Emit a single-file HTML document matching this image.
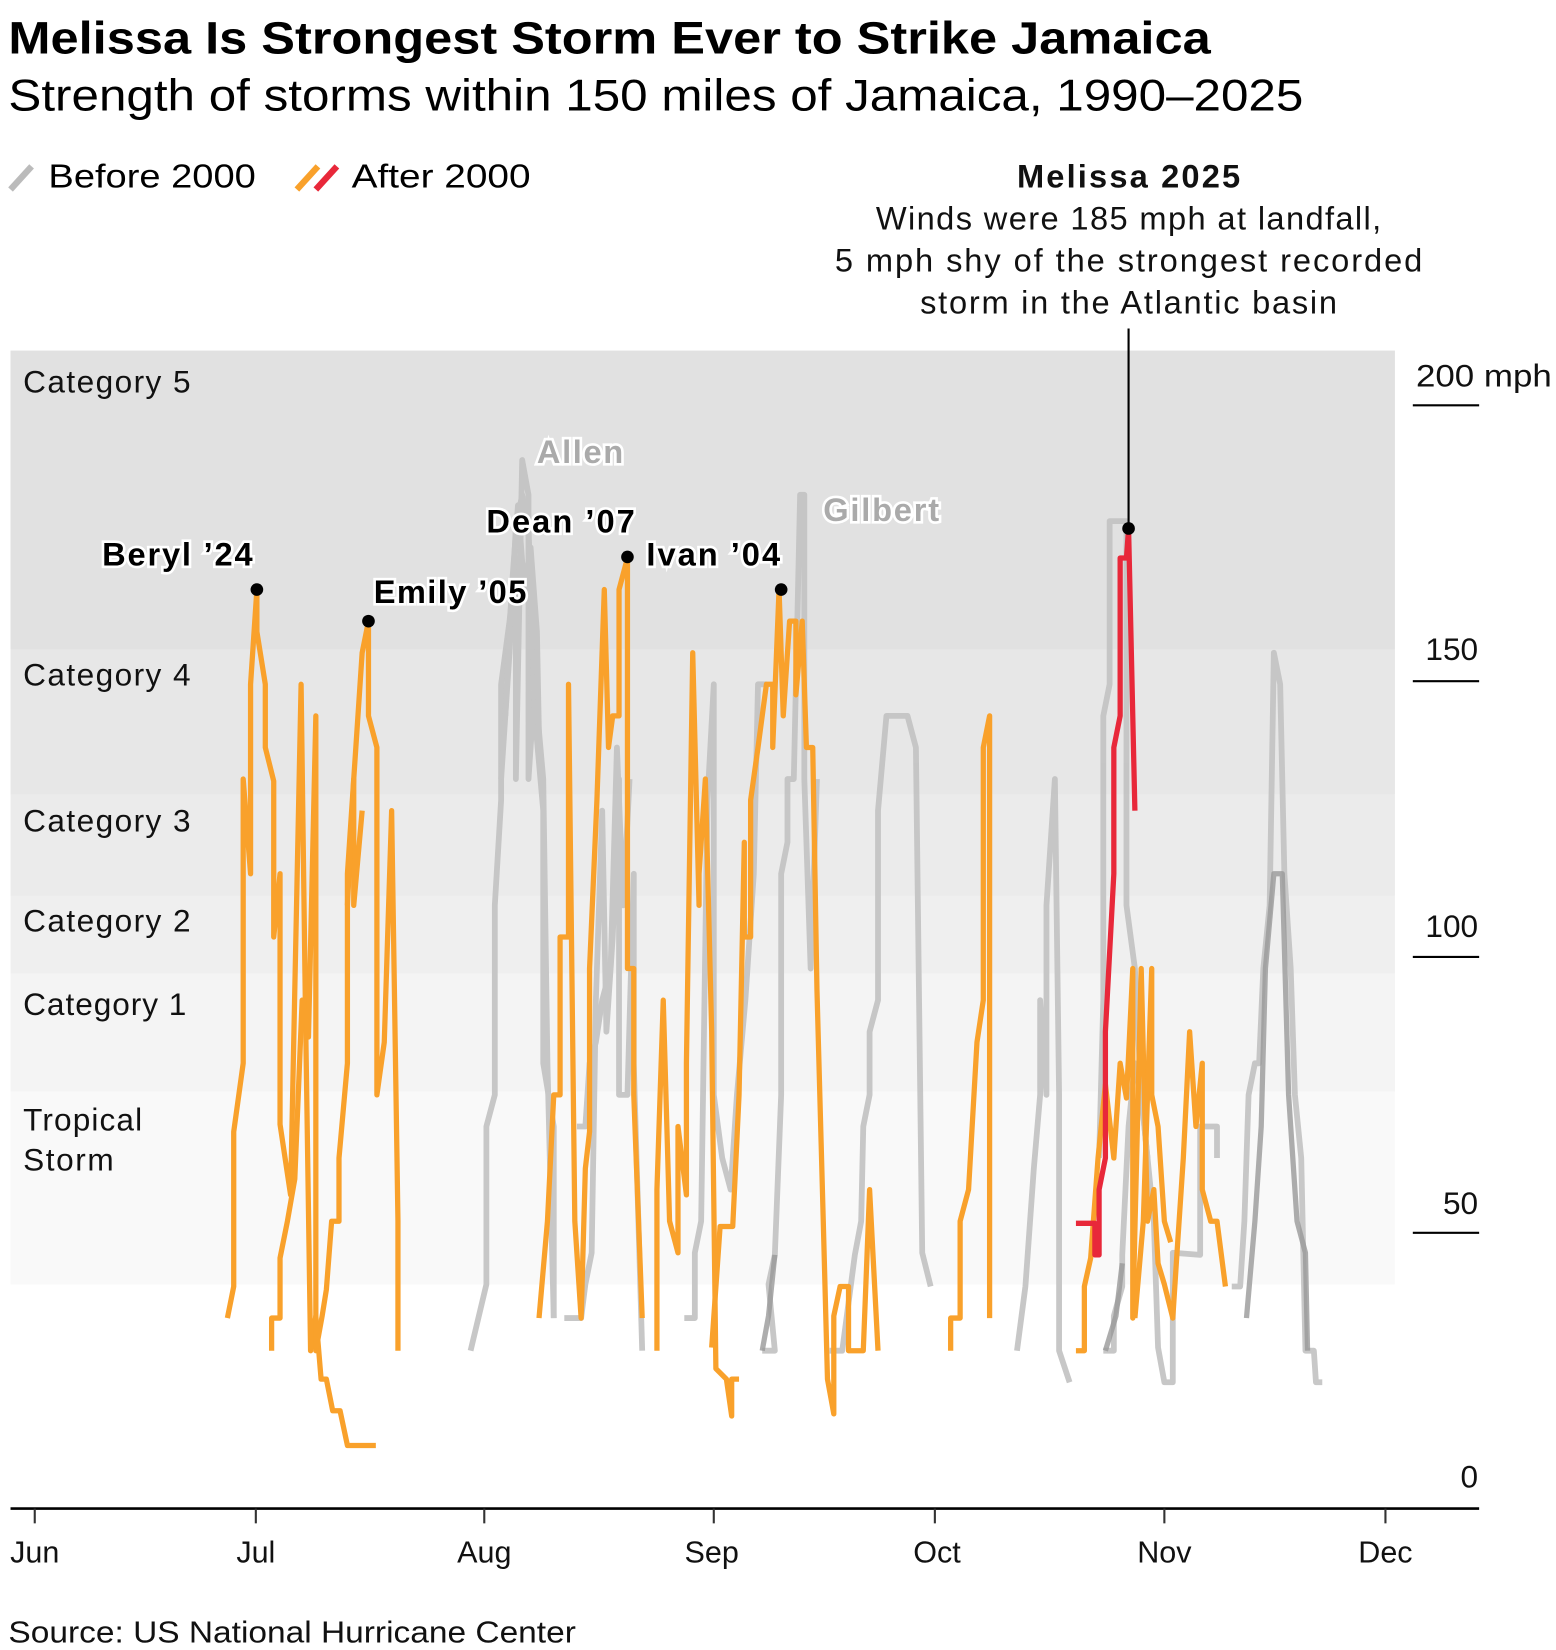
<!DOCTYPE html>
<html><head><meta charset="utf-8"><style>html,body{margin:0;padding:0;background:#fff}svg{display:block}</style></head>
<body>
<svg width="1556" height="1650" viewBox="0 0 1478 1567.3" xmlns="http://www.w3.org/2000/svg" font-family="Liberation Sans, sans-serif">
<rect width="1478" height="1568" fill="#fff"/>
<text x="8" y="51" font-size="43" font-weight="bold" fill="#000" textLength="1142" lengthAdjust="spacingAndGlyphs">Melissa Is Strongest Storm Ever to Strike Jamaica</text>
<text x="8" y="105" font-size="42" fill="#000" textLength="1230" lengthAdjust="spacingAndGlyphs">Strength of storms within 150 miles of Jamaica, 1990–2025</text>
<line x1="10" y1="180" x2="30" y2="158" stroke="#bbb" stroke-width="6"/>
<text x="46" y="178" font-size="32" textLength="197" lengthAdjust="spacingAndGlyphs">Before 2000</text>
<line x1="282" y1="180" x2="302" y2="158" stroke="#f9a12b" stroke-width="6"/>
<line x1="300" y1="180" x2="320" y2="158" stroke="#e8283a" stroke-width="6"/>
<text x="334" y="178" font-size="32" textLength="170" lengthAdjust="spacingAndGlyphs">After 2000</text>
<rect x="10" y="333" width="1315" height="284" fill="#e1e1e1"/>
<rect x="10" y="617" width="1315" height="138" fill="#e7e7e7"/>
<rect x="10" y="755" width="1315" height="96" fill="#ebebeb"/>
<rect x="10" y="851" width="1315" height="74" fill="#efefef"/>
<rect x="10" y="925" width="1315" height="112" fill="#f4f4f4"/>
<rect x="10" y="1037" width="1315" height="183" fill="#f9f9f9"/>
<g font-size="30" fill="#111" lengthAdjust="spacingAndGlyphs">
<text x="22" y="373" textLength="159">Category 5</text><text x="22" y="651" textLength="159">Category 4</text><text x="22" y="790" textLength="159">Category 3</text><text x="22" y="885" textLength="159">Category 2</text><text x="22" y="964" textLength="155">Category 1</text><text x="22" y="1074" textLength="113">Tropical</text><text x="22" y="1112" textLength="86">Storm</text>
</g>
<g stroke="#000" stroke-width="2"><line x1="1342" y1="385" x2="1405" y2="385"/><line x1="1342" y1="647" x2="1405" y2="647"/><line x1="1342" y1="909" x2="1405" y2="909"/><line x1="1342" y1="1171" x2="1405" y2="1171"/></g>
<g font-size="30" fill="#111"><text x="1345" y="367" textLength="129" lengthAdjust="spacingAndGlyphs">200 mph</text><text x="1404" y="627" text-anchor="end">150</text><text x="1404" y="890" text-anchor="end">100</text><text x="1404" y="1153" text-anchor="end">50</text><text x="1404" y="1413" text-anchor="end">0</text></g>
<g fill="none" stroke="#c2c2c2" stroke-width="5.5" stroke-linejoin="round" opacity="0.9">
<polyline points="447,1283 462,1220 462,1070 470,1040 470,860 476,760 476,650 484,590 490,530 490,740 496,437 502,470 502,740 508,650 516,740 520,1010 526,1252"/>
<polyline points="476,740 484,620 490,500 496,470 502,500 508,680 516,770 516,1010 526,1070 526,1252"/>
<polyline points="480,680 486,560 492,480 498,560 504,520 510,600 512,700"/>
<polyline points="536,1252 552,1252 556,1220 562,1190 566,950 572,770 576,980 582,890 588,740 588,1040 596,1040 602,830 602,1010 610,1283"/>
<polyline points="548,1070 556,1070 560,1010 566,990 572,950 580,920 586,710 592,860 598,740"/>
<polyline points="650,1252 660,1252 660,1190 666,1160 672,760 678,650 678,1040 686,1100 694,1130 700,1040 708,950 712,890 716,830 720,650 728,650"/>
<polyline points="724,1283 736,1283 730,1220 736,1192 742,1040 742,830 748,800 748,740 754,740 760,470 764,470 764,740 770,920 776,740"/>
<polyline points="788,1283 800,1283 812,1192 818,1160 820,1070 826,1040 826,980 834,950 834,770 842,680 862,680 870,710 876,1190 884,1222"/>
<polyline points="966,1283 974,1222 982,1110 988,1040 988,950 994,1040 994,860 1002,740 1006,1040 1006,1283 1016,1313"/>
<polyline points="1048,1283 1058,1283 1058,1250 1066,1222 1066,1192 1072,1070 1078,1010 1084,1040 1090,1100 1096,1160 1100,1280 1106,1313 1114,1313 1114,1190 1140,1192 1140,1070 1156,1070 1156,1100"/>
<polyline points="1044,1100 1048,950 1048,680 1054,650 1054,495 1070,495 1070,860 1078,920 1084,1040 1090,1100"/>
<polyline points="1170,1222 1178,1222 1182,1160 1186,1040 1192,1010 1196,1010 1200,920 1206,860 1210,620 1216,650 1220,830 1226,920 1230,1040 1236,1100 1240,1283 1248,1283 1250,1313 1256,1313"/>
</g>
<g fill="none" stroke="#999" stroke-width="5" stroke-linejoin="round" opacity="0.8">
<polyline points="1184,1252 1192,1160 1198,1070 1202,920 1210,830 1218,830 1224,1040 1232,1160 1240,1190 1242,1283"/>
<polyline points="724,1283 730,1250 736,1192"/>
<polyline points="1050,1283 1060,1250 1066,1200"/>
</g>
<g fill="none" stroke="#f9a12b" stroke-width="5" stroke-linejoin="round">
<polyline points="216,1252 222,1222 222,1075 231,1010 231,740 238,830 238,650 244,560 244,600 252,650 252,710 260,742 260,890 266,830 266,1068 276,1135 286,650 290,950 295,1283 300,1250 305,1310 310,1310 316,1340 323,1340 330,1373 357,1373"/>
<polyline points="258,1283 258,1252 266,1252 266,1195 273,1160 280,1120 287,950 293,985 300,680 300,1283 306,1250 310,1225 315,1160 322,1160 322,1100 330,1010 330,830 336,740 336,860 344,770"/>
<polyline points="330,860 336,740 344,620 350,590 350,680 358,710 358,1040 365,990 372,770 378,1160 378,1283"/>
<polyline points="512,1252 520,1160 526,1040 532,1040 532,890 540,890 540,650 546,1160 552,1252 556,1110 560,1075 560,920 567,760 574,560 578,710 582,680 588,680 588,560 596,530 596,920 602,920 602,1040 610,1252"/>
<polyline points="624,1283 624,1130 630,950 636,1160 644,1190 644,1070 652,1135 652,1010 658,620 664,860 664,830 670,740 676,980 680,1300 690,1310 695,1345 695,1310 702,1310"/>
<polyline points="676,1280 684,1165 696,1165 702,1040 707,800 707,890 713,890 713,760 720,710 728,650 734,650 734,710 740,560 744,680 750,590 756,590 756,660 762,590 766,710 772,710 776,940 782,1160 786,1310 792,1343 792,1250 798,1222 806,1222 806,1283 820,1283 826,1130 834,1283"/>
<polyline points="903,1283 903,1252 912,1252 912,1160 920,1130 928,990 934,950 934,710 940,680 940,1252"/>
<polyline points="1022,1283 1030,1283 1030,1222 1036,1195 1043,1100 1050,1030 1058,1100 1064,1010 1070,1043 1076,920 1076,1252 1084,920 1090,1160 1096,1130 1100,1200 1106,1220 1114,1252 1118,1190 1124,1100 1130,980 1136,1070 1142,1010 1142,1130 1150,1160 1156,1160 1164,1222"/>
<polyline points="1078,1252 1086,1160 1094,920 1094,1040 1100,1070 1106,1160 1112,1180"/>
</g>
<polyline fill="none" stroke="#e8283a" stroke-width="5" stroke-linejoin="round" points="1022,1162 1040,1162 1040,1192 1044,1192 1044,1130 1050,1100 1050,980 1058,830 1058,710 1064,680 1064,530 1070,530 1072,502 1078,770"/>
<line x1="1072" y1="312" x2="1072" y2="502" stroke="#000" stroke-width="2"/>
<g fill="#000"><circle cx="244" cy="560" r="6"/><circle cx="350" cy="590" r="6"/><circle cx="596" cy="529" r="6"/><circle cx="742" cy="560" r="6"/><circle cx="1072" cy="502" r="6"/></g>
<g font-size="31" font-weight="bold" stroke="#fff" stroke-width="5" paint-order="stroke" lengthAdjust="spacingAndGlyphs">
<text x="97" y="537" textLength="143">Beryl ’24</text><text x="355" y="573" textLength="145">Emily ’05</text><text x="462" y="506" textLength="141">Dean ’07</text><text x="614" y="537" textLength="127">Ivan ’04</text>
<text x="510" y="440" fill="#aaa" textLength="82">Allen</text><text x="782" y="495" fill="#aaa" textLength="110">Gilbert</text>
</g>
<g font-size="31" text-anchor="middle" fill="#111" lengthAdjust="spacingAndGlyphs">
<text x="1072" y="178" font-weight="bold" textLength="212">Melissa 2025</text>
<text x="1072" y="218" textLength="480">Winds were 185 mph at landfall,</text>
<text x="1072" y="258" textLength="558">5 mph shy of the strongest recorded</text>
<text x="1072" y="298" textLength="396">storm in the Atlantic basin</text>
</g>
<line x1="10" y1="1433" x2="1405" y2="1433" stroke="#000" stroke-width="2.5"/>
<g stroke="#333" stroke-width="2"><line x1="33" y1="1433" x2="33" y2="1447"/><line x1="243" y1="1433" x2="243" y2="1447"/><line x1="460" y1="1433" x2="460" y2="1447"/><line x1="678" y1="1433" x2="678" y2="1447"/><line x1="888" y1="1433" x2="888" y2="1447"/><line x1="1106" y1="1433" x2="1106" y2="1447"/><line x1="1316" y1="1433" x2="1316" y2="1447"/></g>
<g font-size="29" text-anchor="middle" fill="#111"><text x="33" y="1484">Jun</text><text x="243" y="1484">Jul</text><text x="460" y="1484">Aug</text><text x="676" y="1484">Sep</text><text x="890" y="1484">Oct</text><text x="1106" y="1484">Nov</text><text x="1316" y="1484">Dec</text></g>
<text x="8" y="1560" font-size="29" fill="#111" textLength="539" lengthAdjust="spacingAndGlyphs">Source: US National Hurricane Center</text>
</svg>
</body></html>
